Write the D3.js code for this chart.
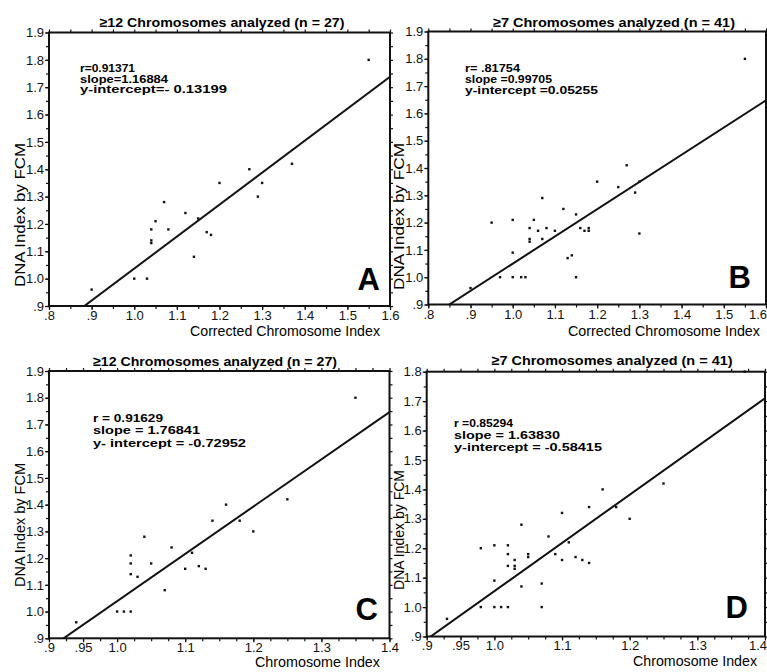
<!DOCTYPE html>
<html><head><meta charset="utf-8">
<script src="https://cdn.jsdelivr.net/npm/d3@7"></script>
<style>
body{margin:0;background:#fff}
svg{font-family:"Liberation Sans",Arial,Helvetica,sans-serif;background:#fff}
.tick text{font-size:13px;fill:#111}
.tick line{stroke:#111}
</style></head><body>
<svg id="chart" width="767" height="672"></svg>
<script>
// panel data
const aX = [0.90,1.00,1.03,1.04,1.04,1.04,1.05,1.07,1.08,1.12,1.14,1.15,1.17,1.18,1.20,1.27,1.29,1.30,1.37,1.55]
const aY = [0.96,1.00,1.00,1.18,1.14,1.13,1.21,1.28,1.18,1.24,1.08,1.22,1.17,1.16,1.35,1.40,1.30,1.35,1.42,1.80]

const bX = [0.90,0.95,0.97,1.00,1.00,1.00,1.02,1.03,1.04,1.04,1.04,1.05,1.06,1.07,1.07,1.08,1.10,1.12,1.13,1.14,1.15,1.15,1.16,1.17,1.18,1.18,1.20,1.25,1.27,1.29,1.30,1.30,1.55]
const bY = [0.96,1.20,1.00,1.21,1.09,1.00,1.00,1.00,1.18,1.14,1.13,1.21,1.17,1.29,1.14,1.18,1.17,1.25,1.07,1.08,1.23,1.00,1.18,1.17,1.18,1.17,1.35,1.33,1.41,1.31,1.16,1.35,1.80]

const cX = [0.94,1.00,1.01,1.02,1.02,1.02,1.02,1.03,1.04,1.05,1.07,1.08,1.10,1.11,1.12,1.13,1.14,1.16,1.18,1.20,1.25,1.35]
const cY = [0.96,1.00,1.00,1.00,1.14,1.18,1.21,1.13,1.28,1.18,1.08,1.24,1.16,1.22,1.17,1.16,1.34,1.40,1.34,1.30,1.42,1.80]

const dX = [0.93,0.98,0.98,1.00,1.00,1.00,1.01,1.02,1.02,1.02,1.02,1.03,1.03,1.03,1.04,1.04,1.05,1.05,1.07,1.07,1.08,1.09,1.10,1.10,1.11,1.12,1.13,1.14,1.14,1.16,1.18,1.20,1.25,1.37]
const dY = [0.96,1.00,1.20,1.00,1.09,1.21,1.00,1.00,1.14,1.18,1.21,1.13,1.14,1.16,1.07,1.28,1.17,1.18,1.00,1.08,1.24,1.18,1.16,1.32,1.22,1.17,1.16,1.15,1.34,1.40,1.34,1.30,1.42,1.80]

const titles = ['\u226512 Chromosomes analyzed (n = 27)', '\u22657 Chromosomes analyzed (n = 41)',
                '\u226512 Chromosomes analyzed (n = 27)', '\u22657 Chromosomes analyzed (n = 41)']
const letters = ['A', 'B', 'C', 'D']
const xLabels = ['Corrected Chromosome Index', 'Corrected Chromosome Index', 'Chromosome Index', 'Chromosome Index']
const yLabel = 'DNA Index by FCM'
const slopes = [1.16884, 0.99705, 1.76841, 1.63830]
const intercepts = [-0.13199, 0.05255, -0.72952, -0.58415]
const statLines = [
    ['r=0.91371', 'slope=1.16884', 'y-intercept=- 0.13199'],
    ['r= .81754', 'slope =0.99705', 'y-intercept =0.05255'],
    ['r = 0.91629', 'slope = 1.76841', 'y- intercept = -0.72952'],
    ['r =0.85294', 'slope = 1.63830', 'y-intercept = -0.58415'],
]
const xTicksTop = [0.8, 0.9, 1.0, 1.1, 1.2, 1.3, 1.4, 1.5, 1.6]
const xTicksBottom = [0.9, 0.95, 1.0, 1.1, 1.2, 1.3, 1.4]
const yTicks19 = [0.9, 1.0, 1.1, 1.2, 1.3, 1.4, 1.5, 1.6, 1.7, 1.8, 1.9]
const yTicks18 = [0.9, 1.0, 1.1, 1.2, 1.3, 1.4, 1.5, 1.6, 1.7, 1.8]

// layout of the four panels
const panels = [
    {x: aX, y: aY, box: {l: 49, r: 390, t: 32.5, b: 306}, xDom: [0.8, 1.6], yDom: [0.9, 1.9], xt: xTicksTop, yt: yTicks19, minX: 0.05, pad: 1,
     title: [222, 27, 245], stats: [80, 72, 10.5, [55, 88, 147]], xl: [190, 336, 190], yl: [25, 287, 144], letter: [380, 290]},
    {x: bX, y: bY, box: {l: 428.3, r: 766, t: 31.5, b: 304.5}, xDom: [0.8, 1.6], yDom: [0.9, 1.9], xt: xTicksTop, yt: yTicks19, minX: 0.05, pad: 1,
     title: [614, 27, 242], stats: [465, 72, 11, [55, 87, 133]], xl: [568, 336, 192], yl: [404, 290, 147], letter: [751, 288]},
    {x: cX, y: cY, box: {l: 49, r: 389.5, t: 371, b: 638.3}, xDom: [0.9, 1.4], yDom: [0.9, 1.9], xt: xTicksBottom, yt: yTicks19, minX: 0.025, pad: 0,
     title: [215, 366, 244], stats: [93, 421.5, 12.7, [70, 107, 153]], xl: [255, 667, 125], yl: [25, 587, 124], letter: [378, 620]},
    {x: dX, y: dY, box: {l: 426.7, r: 765, t: 371.7, b: 636.5}, xDom: [0.9, 1.4], yDom: [0.9, 1.8], xt: xTicksBottom, yt: yTicks18, minX: 0.025, pad: 0,
     title: [612, 365, 241], stats: [454, 426.5, 12.3, [59, 106, 148]], xl: [633, 666, 124], yl: [404, 590, 120], letter: [748, 618]},
]

const svg = d3.select('#chart')
const width = +svg.attr('width')

function fmt(v) {
    if (v < 1) return String(+v.toFixed(2)).replace('0.', '.')
    return v.toFixed(1)
}

function range(a, b, step) {
    const out = []
    for (let v = a; v <= b + 1e-9; v += step) out.push(+v.toFixed(4))
    return out
}

panels.forEach((p, i) => {
    const g = svg.append('g')
    const xScale = d3.scaleLinear().domain(p.xDom).range([p.box.l, p.box.r])
    const yScale = d3.scaleLinear().domain(p.yDom).range([p.box.b, p.box.t])

    const minorX = range(p.xDom[0], p.xDom[1], p.minX)
    const minorY = range(p.yDom[0], p.yDom[1], 0.05)

    // minor ticks on all four sides
    g.append('g').attr('transform', `translate(0,${p.box.b})`)
        .call(d3.axisBottom(xScale).tickValues(minorX).tickSize(3).tickFormat(''))
    g.append('g').attr('transform', `translate(0,${p.box.t})`)
        .call(d3.axisTop(xScale).tickValues(minorX).tickSize(3).tickFormat(''))
    g.append('g').attr('transform', `translate(${p.box.l},0)`)
        .call(d3.axisLeft(yScale).tickValues(minorY).tickSize(3).tickFormat(''))
    g.append('g').attr('transform', `translate(${p.box.r},0)`)
        .call(d3.axisRight(yScale).tickValues(minorY).tickSize(3).tickFormat(''))

    // labelled axes
    const xAxisG = g.append('g').attr('transform', `translate(0,${p.box.b})`)
        .call(d3.axisBottom(xScale).tickValues(p.xt).tickSize(4).tickPadding(p.pad).tickFormat(fmt))
    g.append('g').attr('transform', `translate(${p.box.l},0)`)
        .call(d3.axisLeft(yScale).tickValues(p.yt).tickSize(4).tickPadding(1).tickFormat(fmt))

    // last label sits against the page edge
    xAxisG.selectAll('.tick text')
        .filter(d => xScale(d) > width - 10)
        .attr('text-anchor', 'end').attr('x', width - 0.5 - p.box.r)

    g.selectAll('.domain').remove()
    g.selectAll('.tick line').attr('stroke-width', 1.2)

    const clipId = 'clip' + i
    g.append('clipPath').attr('id', clipId).append('rect')
        .attr('x', p.box.l).attr('y', p.box.t)
        .attr('width', p.box.r - p.box.l).attr('height', p.box.b - p.box.t)

    // fitted line
    const fit = p.xDom.map(x => [x, slopes[i] * x + intercepts[i]])
    g.append('path')
        .attr('clip-path', `url(#${clipId})`)
        .attr('d', d3.line().x(d => xScale(d[0])).y(d => yScale(d[1]))(fit))
        .attr('stroke', '#111').attr('stroke-width', 2).attr('fill', 'none')

    // points
    g.append('g').selectAll('rect').data(p.x.map((x, j) => [x, p.y[j]])).enter().append('rect')
        .attr('x', d => xScale(d[0]) - 1.2)
        .attr('y', d => yScale(d[1]) - 1.2)
        .attr('width', 2.4).attr('height', 2.4)
        .attr('fill', '#111')

    // frame
    g.append('rect')
        .attr('x', p.box.l).attr('y', p.box.t)
        .attr('width', p.box.r - p.box.l).attr('height', p.box.b - p.box.t)
        .attr('fill', 'none').attr('stroke', '#111').attr('stroke-width', 2)

    g.append('text')
        .attr('x', p.title[0]).attr('y', p.title[1])
        .attr('text-anchor', 'middle')
        .attr('font-size', 13.5).attr('font-weight', 'bold')
        .attr('textLength', p.title[2]).attr('lengthAdjust', 'spacingAndGlyphs')
        .text(titles[i])

    statLines[i].forEach((s, k) => {
        g.append('text')
            .attr('x', p.stats[0]).attr('y', p.stats[1] + k * p.stats[2])
            .attr('font-size', 11.5).attr('font-weight', 'bold')
            .attr('textLength', p.stats[3][k]).attr('lengthAdjust', 'spacingAndGlyphs')
            .text(s)
    })

    g.append('text')
        .attr('x', p.xl[0]).attr('y', p.xl[1])
        .attr('font-size', 14)
        .attr('textLength', p.xl[2]).attr('lengthAdjust', 'spacingAndGlyphs')
        .text(xLabels[i])

    g.append('text')
        .attr('transform', `translate(${p.yl[0]},${p.yl[1]}) rotate(-90)`)
        .attr('font-size', 14.5)
        .attr('textLength', p.yl[2]).attr('lengthAdjust', 'spacingAndGlyphs')
        .text(yLabel)

    g.append('text')
        .attr('x', p.letter[0]).attr('y', p.letter[1])
        .attr('text-anchor', 'end')
        .attr('font-size', 31).attr('font-weight', 'bold')
        .text(letters[i])
})
</script>
</body></html>
